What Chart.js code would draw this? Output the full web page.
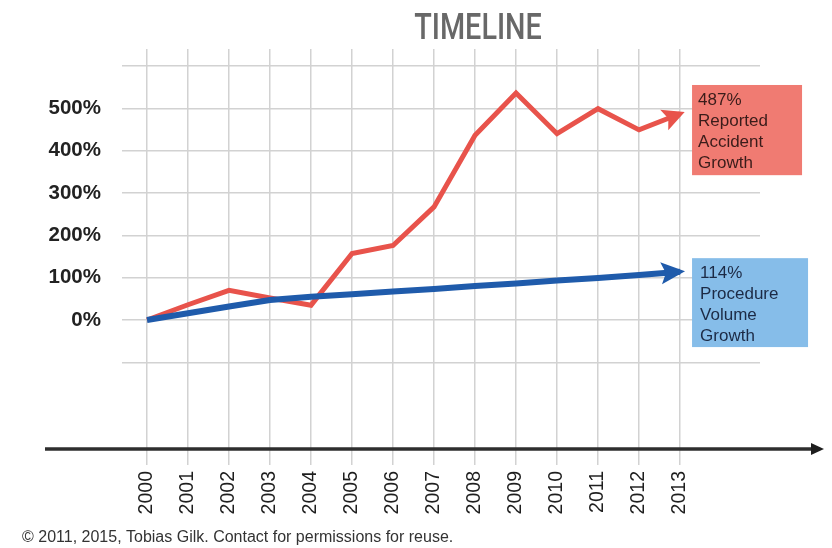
<!DOCTYPE html>
<html>
<head>
<meta charset="utf-8">
<title>Timeline</title>
<script src="https://cdn.jsdelivr.net/npm/chart.js@4/dist/chart.umd.min.js"></script>
<style>
  html, body { margin: 0; padding: 0; background: #ffffff; }
  #wrap { width: 832px; height: 548px; }
</style>
</head>
<body>
<div id="wrap"><canvas id="chart" width="832" height="548"></canvas></div>
<script>
// Years on the timeline
const years = [2000, 2001, 2002, 2003, 2004, 2005, 2006, 2007, 2008, 2009, 2010, 2011, 2012, 2013];
// Growth since 2000, in percent
const accidentGrowth = [0, 36, 70, 52, 35, 157, 176, 267, 436, 536, 440, 499, 449, 487];
const volumeGrowth = [0, 16, 32, 47, 55, 61, 67, 73, 80, 86, 93, 99, 106, 114];
// Gridline and label values on the percent axis
const gridValues = [-100, 0, 100, 200, 300, 400, 500, 600];
const labelValues = [0, 100, 200, 300, 400, 500];
// Callout texts
const accidentNote = ['487%', 'Reported', 'Accident', 'Growth'];
const volumeNote = ['114%', 'Procedure', 'Volume', 'Growth'];
const titleText = 'TIMELINE';
const footerText = '\u00A9 2011, 2015, Tobias Gilk. Contact for permissions for reuse.';

const RED = '#e8534b';
const BLUE = '#1f5bab';
const GRID = '#d2d2d2';

const toPoints = vals => vals.map((v, i) => ({ x: years[i], y: v }));

// Arrowheads at the end of each line
const arrowHeads = {
  id: 'arrowHeads',
  afterDatasetsDraw(chart) {
    const ctx = chart.ctx;
    chart.data.datasets.forEach((ds, di) => {
      const pts = chart.getDatasetMeta(di).data;
      const a = pts[pts.length - 2], b = pts[pts.length - 1];
      const ang = Math.atan2(b.y - a.y, b.x - a.x);
      const L = ds.headLength, W = ds.headWidth;
      const tx = b.x + Math.cos(ang) * 5, ty = b.y + Math.sin(ang) * 5;
      ctx.save();
      ctx.translate(tx, ty);
      ctx.rotate(ang);
      ctx.beginPath();
      ctx.moveTo(0, 0);
      ctx.lineTo(-L, -W);
      ctx.lineTo(-L * 0.8, 0);
      ctx.lineTo(-L, W);
      ctx.closePath();
      ctx.fillStyle = ds.borderColor;
      ctx.fill();
      ctx.restore();
    });
  }
};

// Title, horizontal timeline arrow, callout boxes and credit line
const decorations = {
  id: 'decorations',
  afterDraw(chart) {
    const ctx = chart.ctx;
    const xs = chart.scales.x, ys = chart.scales.y;
    ctx.save();

    // title, a condensed medium face
    ctx.save();
    ctx.fillStyle = '#686868';
    ctx.font = "500 36px Roboto, 'DejaVu Sans', sans-serif";
    ctx.textAlign = 'center';
    ctx.textBaseline = 'alphabetic';
    ctx.translate(478, 39);
    ctx.scale(0.8, 1);
    ctx.fillText(titleText, 0, 0);
    ctx.restore();

    // timeline axis with arrow
    const ay = ys.getPixelForValue(-300) + 2;
    ctx.strokeStyle = '#2e2e2e';
    ctx.lineWidth = 3.5;
    ctx.beginPath();
    ctx.moveTo(45, ay);
    ctx.lineTo(814, ay);
    ctx.stroke();
    ctx.fillStyle = '#1e1e1e';
    ctx.beginPath();
    ctx.moveTo(824, ay);
    ctx.lineTo(811, ay - 6);
    ctx.lineTo(811, ay + 6);
    ctx.closePath();
    ctx.fill();

    // callout boxes
    const bx = xs.getPixelForValue(years[years.length - 1]) + 12;
    const drawNote = (lines, top, bottom, w, fill, color, tx, firstBase) => {
      const y0 = ys.getPixelForValue(top), y1 = ys.getPixelForValue(bottom);
      ctx.fillStyle = fill;
      ctx.fillRect(bx, y0, w, y1 - y0);
      ctx.fillStyle = color;
      ctx.font = "17px 'Liberation Sans', Arial, sans-serif";
      ctx.textAlign = 'left';
      ctx.textBaseline = 'alphabetic';
      lines.forEach((t, i) => ctx.fillText(t, bx + tx, y0 + firstBase + i * 21));
    };
    drawNote(accidentNote, 555, 342, 110, '#f07b72', '#3a1c1a', 6, 20);
    drawNote(volumeNote, 146, -64, 116, '#86bde9', '#1c2a45', 8, 20);

    // credit line
    ctx.fillStyle = '#333333';
    ctx.font = "16px 'Liberation Sans', Arial, sans-serif";
    ctx.textAlign = 'left';
    ctx.fillText(footerText, 22, 542);
    ctx.restore();
  }
};

new Chart(document.getElementById('chart'), {
  type: 'line',
  data: {
    datasets: [
      {
        label: 'Procedure Volume Growth',
        data: toPoints(volumeGrowth),
        borderColor: BLUE,
        borderWidth: 6,
        pointRadius: 0,
        tension: 0,
        headLength: 24,
        headWidth: 11
      },
      {
        label: 'Reported Accident Growth',
        data: toPoints(accidentGrowth),
        borderColor: RED,
        borderWidth: 5,
        pointRadius: 0,
        tension: 0,
        headLength: 22,
        headWidth: 11
      }
    ]
  },
  options: {
    responsive: false,
    animation: false,
    layout: { padding: { top: 49, right: 72, bottom: 0, left: 0 } },
    plugins: { legend: { display: false }, tooltip: { enabled: false } },
    scales: {
      x: {
        type: 'linear',
        min: 1999.39,
        max: 2014.95,
        afterBuildTicks: s => { s.ticks = years.map(v => ({ value: v })); },
        afterFit: s => { s.height = 101; },
        border: { display: false },
        grid: { color: GRID, lineWidth: 1.5, tickLength: 18, drawTicks: true },
        ticks: {
          autoSkip: false,
          minRotation: 90,
          maxRotation: 90,
          padding: 6,
          color: '#1e1e1e',
          font: { family: "'Liberation Sans', Arial, sans-serif", size: 19.5 },
          callback: v => String(v)
        }
      },
      y: {
        min: -300,
        max: 640,
        afterBuildTicks: s => { s.ticks = gridValues.map(v => ({ value: v })); },
        afterFit: s => { s.width = 122; },
        border: { display: false },
        grid: { color: GRID, lineWidth: 1.5, drawTicks: false },
        ticks: {
          padding: 21,
          color: '#222222',
          font: { family: "'Liberation Sans', Arial, sans-serif", size: 20.5, weight: 'bold' },
          callback: v => labelValues.includes(v) ? v + '%' : ''
        }
      }
    }
  },
  plugins: [arrowHeads, decorations]
});
</script>
</body>
</html>
